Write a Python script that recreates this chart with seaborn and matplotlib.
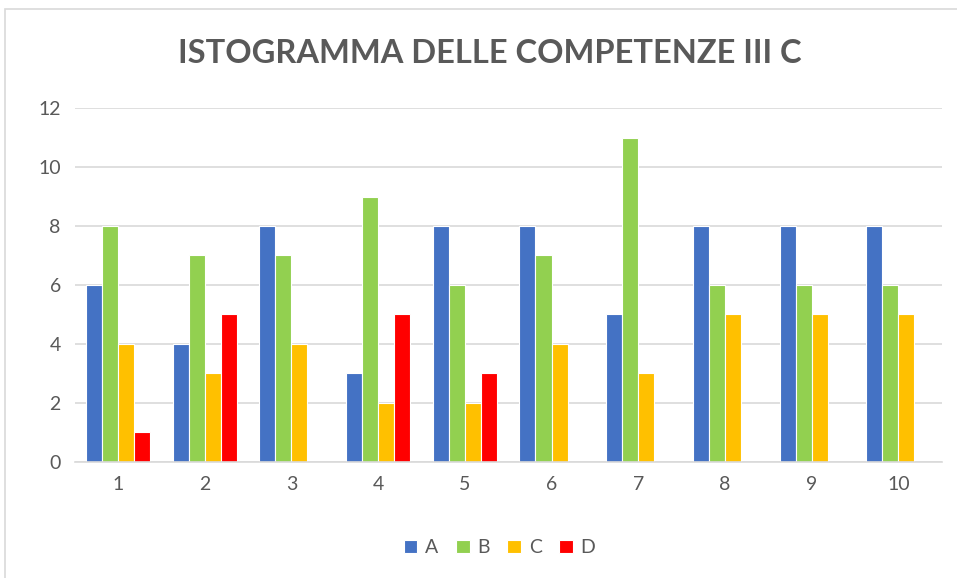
import seaborn as sns
import matplotlib.pyplot as plt
import pandas as pd
from matplotlib.patches import Rectangle

# valori
competenze = ["1", "2", "3", "4", "5", "6", "7", "8", "9", "10"]
livello_a = [6, 4, 8, 3, 8, 8, 5, 8, 8, 8]
livello_b = [8, 7, 7, 9, 6, 7, 11, 6, 6, 6]
livello_c = [4, 3, 4, 2, 2, 4, 3, 5, 5, 5]
livello_d = [1, 5, 0, 5, 3, 0, 0, 0, 0, 0]
livelli = ["A", "B", "C", "D"]
colori = ["#4472C4", "#92D050", "#FFC000", "#FF0000"]

df = pd.DataFrame({"competenza": competenze, "A": livello_a, "B": livello_b,
                   "C": livello_c, "D": livello_d})
df_long = df.melt(id_vars="competenza", var_name="livello", value_name="valore")

sns.set_style("white")
plt.rcParams['font.family'] = ['Lato', 'DejaVu Sans']

fig = plt.figure(figsize=(9.57, 5.78), dpi=100)
ax = fig.add_axes([0.078, 0.201, 0.906, 0.612])

sns.barplot(data=df_long, x="competenza", y="valore", hue="livello",
            hue_order=livelli, palette=colori, width=0.74,
            edgecolor="white", linewidth=0.8, saturation=1, ax=ax)

ax.set_ylim(0, 12)
ax.set_yticks(range(0, 13, 2))
ax.yaxis.grid(True, color="#d9d9d9", linewidth=1.2)
ax.set_axisbelow(True)
for s in ["top", "right", "left"]:
    ax.spines[s].set_visible(False)
ax.spines["bottom"].set_color("#d9d9d9")
ax.spines["bottom"].set_linewidth(1.2)
ax.tick_params(axis="both", length=0, labelsize=14, labelcolor="#595959", pad=10)
ax.set_xlabel("")
ax.set_ylabel("")

fig.text(0.512, 0.907, "ISTOGRAMMA DELLE COMPETENZE III C", ha="center", va="center",
         fontsize=23.5, fontweight="bold", color="#595959")

ax.legend(loc="center", bbox_to_anchor=(0.49, -0.243), ncol=4, frameon=False,
          fontsize=14, labelcolor="#595959", handlelength=0.7, handleheight=0.7,
          handletextpad=0.4, columnspacing=0.9)

# bordo del grafico
fig.patches.append(Rectangle((5 / 957, -0.1), 1.1, 1.1 - 9 / 578, transform=fig.transFigure,
                             fill=False, edgecolor="#d9d9d9", linewidth=1.2))

fig.savefig("out.png", dpi=100)
